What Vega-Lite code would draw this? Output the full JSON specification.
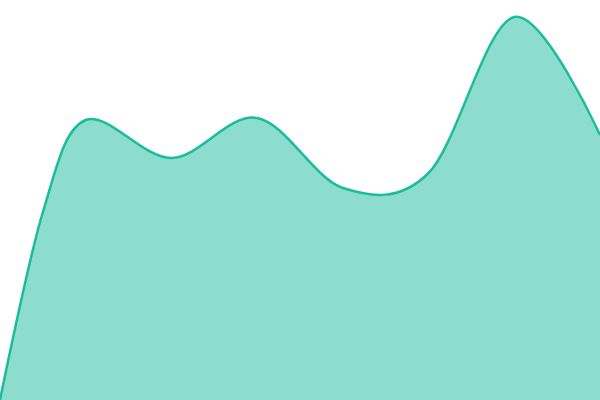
{
  "$schema": "https://vega.github.io/schema/vega-lite/v6.json",
  "width": 600,
  "height": 400,
  "autosize": "none",
  "padding": 0,
  "background": "white",
  "config": {"view": {"stroke": null}},
  "data": {
    "values": [
      {"x": 0, "v": 0},
      {"x": 42.9, "v": 188},
      {"x": 85.7, "v": 280},
      {"x": 171.4, "v": 242},
      {"x": 257.1, "v": 282},
      {"x": 342.9, "v": 212},
      {"x": 428.6, "v": 227},
      {"x": 514.3, "v": 383},
      {"x": 600, "v": 265}
    ]
  },
  "encoding": {
    "x": {"field": "x", "type": "quantitative", "axis": null, "scale": {"domain": [0, 600], "nice": false, "zero": false}},
    "y": {"field": "v", "type": "quantitative", "axis": null, "scale": {"domain": [0, 400], "nice": false}}
  },
  "layer": [
    {"mark": {"type": "area", "interpolate": "cardinal", "color": "#1abc9c", "opacity": 0.5}},
    {"mark": {"type": "line", "interpolate": "cardinal", "color": "#1abc9c", "strokeWidth": 2.5}}
  ]
}
